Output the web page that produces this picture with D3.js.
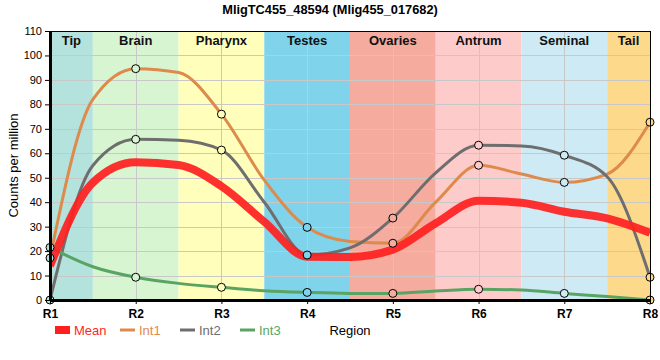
<!DOCTYPE html>
<html>
<head>
<meta charset="utf-8">
<script src="https://cdn.jsdelivr.net/npm/d3@7"></script>
<style>
  html, body { margin: 0; padding: 0; background: #fff; }
  svg { display: block; font-family: "Liberation Sans", Arial, sans-serif; }
</style>
</head>
<body>
<svg id="chart" width="660" height="360"></svg>
<script>
// ---- data ----
const title = "MligTC455_48594 (Mlig455_017682)";
const categories = ["R1", "R2", "R3", "R4", "R5", "R6", "R7", "R8"];
const regions = ["Tip", "Brain", "Pharynx", "Testes", "Ovaries", "Antrum", "Seminal", "Tail"];
const regionColors = ["#b4e2dc", "#d7f5d1", "#ffffbb", "#7fd3ea", "#f5ab9d", "#fecbcb", "#cdeaf5", "#fdd98b"];
const yTicks = [0, 10, 20, 30, 40, 50, 60, 70, 80, 90, 100, 110];
// sample positions along the region axis (1 = R1 ... 8 = R8), read at each region and each boundary
const samplePos = [1, 1.5, 2, 2.5, 3, 3.5, 4, 4.5, 5, 5.5, 6, 6.5, 7, 7.5, 8];
const meanVals = [14, 48, 56.3, 55.2, 46.5, 32, 17.7, 17.6, 20.6, 31.4, 40.6, 39.8, 36.1, 33.4, 27.5];
const int1Vals = [17.2, 82, 94.6, 93, 76, 49, 29.7, 23.9, 23.2, 40, 55.1, 51.5, 48.1, 51.5, 72.7];
const int2Vals = [0, 55, 65.7, 65.3, 61.3, 40, 18.4, 21.3, 33.5, 52, 63.3, 63, 59.2, 50.4, 9.3];
const int3Vals = [21.5, 13.6, 9.3, 6.8, 5.2, 3.8, 3.1, 2.7, 2.7, 3.7, 4.4, 4.1, 2.7, 1.4, 0];
const seriesNames = ["Mean", "Int1", "Int2", "Int3"];
const seriesColors = ["#ff1f1f", "#dd8a4c", "#6e6e6e", "#5aa463"];

// ---- layout ----
const svg = d3.select("#chart");
const L = 50, R = 650, T = 31, B = 300;
const x = d3.scaleLinear().domain([1, 8]).range([L, R]);
const y = d3.scaleLinear().domain([0, 110]).range([B, T]);

svg.append("defs").append("clipPath").attr("id", "plotclip")
  .append("rect").attr("x", L).attr("y", T).attr("width", R - L).attr("height", B - T);

// region bands
const bands = svg.append("g");
regions.forEach((name, i) => {
  const x0 = x(Math.max(1, i + 0.5)), x1 = x(Math.min(8, i + 1.5));
  bands.append("rect").attr("x", x0).attr("y", T).attr("width", x1 - x0).attr("height", B - T)
    .attr("fill", regionColors[i]);
});

// grid
const grid = svg.append("g").attr("stroke", "#c8c8c8").attr("stroke-width", 1);
yTicks.forEach(v => grid.append("line").attr("x1", L).attr("x2", R)
  .attr("y1", Math.round(y(v)) + 0.5).attr("y2", Math.round(y(v)) + 0.5));
categories.forEach((c, i) => grid.append("line")
  .attr("x1", Math.round(x(i + 1)) + 0.5).attr("x2", Math.round(x(i + 1)) + 0.5)
  .attr("y1", T).attr("y2", B));

// region labels
regions.forEach((name, i) => {
  const x0 = x(Math.max(1, i + 0.5)), x1 = x(Math.min(8, i + 1.5));
  svg.append("text").attr("x", (x0 + x1) / 2).attr("y", 45)
    .attr("text-anchor", "middle").attr("font-size", 13).attr("font-weight", "bold")
    .attr("fill", "#111").text(name);
});

// lines
const lineGen = vals => d3.line()
  .x((d, i) => x(samplePos[i])).y(d => y(d)).curve(d3.curveMonotoneX)(vals);
const lines = svg.append("g").attr("clip-path", "url(#plotclip)").attr("fill", "none")
  .attr("stroke-linecap", "round").attr("stroke-linejoin", "round");
[int1Vals, int2Vals, int3Vals].forEach((vals, k) => {
  lines.append("path").attr("d", lineGen(vals)).attr("stroke", seriesColors[k + 1])
    .attr("stroke-width", 3);
});
lines.append("path").attr("d", lineGen(meanVals)).attr("stroke", seriesColors[0])
  .attr("stroke-width", 8).attr("stroke-opacity", 0.92).attr("stroke-linecap", "butt");

// markers at the region positions
const markers = svg.append("g");
[int1Vals, int2Vals, int3Vals].forEach(vals => {
  samplePos.forEach((p, i) => {
    if (Number.isInteger(p)) {
      markers.append("circle").attr("cx", x(p)).attr("cy", y(vals[i])).attr("r", 4)
        .attr("fill", regionColors[p - 1]).attr("stroke", "#000").attr("stroke-width", 1);
    }
  });
});

// frame and axes
svg.append("rect").attr("x", L + 0.5).attr("y", T + 0.5).attr("width", R - L).attr("height", B - T - 0.5)
  .attr("fill", "none").attr("stroke", "#000").attr("stroke-width", 1);

const yAxis = svg.append("g").attr("transform", `translate(${L},0)`)
  .call(d3.axisLeft(y).tickValues(yTicks).tickSize(5).tickSizeOuter(0));
yAxis.select(".domain").attr("stroke-width", 3);
yAxis.selectAll("text").attr("font-size", 11).attr("fill", "#000").attr("font-family", "Liberation Sans, Arial, sans-serif");

const xAxis = svg.append("g").attr("transform", `translate(0,${B})`)
  .call(d3.axisBottom(x).tickValues(d3.range(1, 9)).tickFormat(d => categories[d - 1]).tickSize(4).tickSizeOuter(0));
xAxis.select(".domain").attr("stroke-width", 3);
xAxis.selectAll("text").attr("font-size", 12).attr("font-weight", "bold").attr("fill", "#000")
  .attr("font-family", "Liberation Sans, Arial, sans-serif").attr("dy", "0.9em");

// title and axis labels
svg.append("text").attr("x", 330).attr("y", 14).attr("text-anchor", "middle")
  .attr("font-size", 12.8).attr("font-weight", "bold").attr("fill", "#000").text(title);
svg.append("text").attr("transform", `translate(18,${(T + B) / 2}) rotate(-90)`)
  .attr("text-anchor", "middle").attr("font-size", 13).attr("fill", "#000").text("Counts per million");
svg.append("text").attr("x", (L + R) / 2).attr("y", 335).attr("text-anchor", "middle")
  .attr("font-size", 13).attr("fill", "#000").text("Region");

// legend
const legend = svg.append("g");
const legendX = [55, 120, 180, 240];
seriesNames.forEach((n, i) => {
  if (i === 0) {
    legend.append("rect").attr("x", legendX[i]).attr("y", 326).attr("width", 15).attr("height", 8)
      .attr("fill", seriesColors[i]);
  } else {
    legend.append("line").attr("x1", legendX[i]).attr("x2", legendX[i] + 15)
      .attr("y1", 330).attr("y2", 330).attr("stroke", seriesColors[i]).attr("stroke-width", 3);
  }
  legend.append("text").attr("x", legendX[i] + 19).attr("y", 335).attr("font-size", 13)
    .attr("fill", seriesColors[i]).text(n);
});
</script>
</body>
</html>
